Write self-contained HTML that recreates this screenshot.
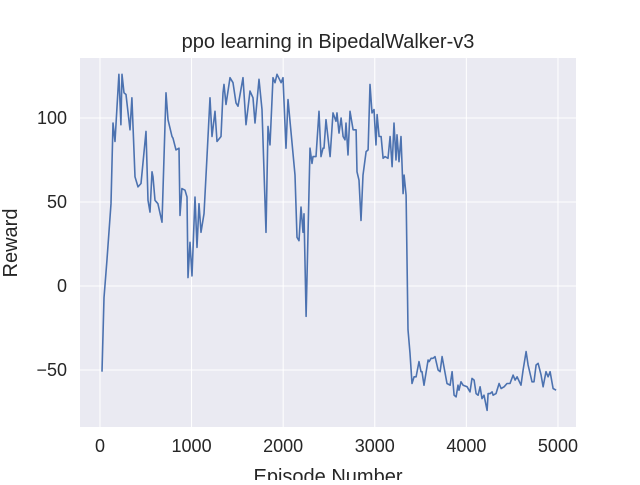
<!DOCTYPE html>
<html><head><meta charset="utf-8"><style>
body{margin:0;background:#fff;width:640px;height:480px;overflow:hidden}
svg text{font-family:"Liberation Sans","DejaVu Sans",sans-serif;fill:#262626}
</style></head><body>
<svg id="chart" width="640" height="480" xmlns="http://www.w3.org/2000/svg">
<rect x="80" y="58" width="496" height="369" fill="#eaeaf2"/>
<g id="grid"></g>
<g id="ticks"></g>
<path id="line" fill="none" stroke="#4c72b0" stroke-width="1.6" stroke-linejoin="round"/>
<text x="328" y="48" text-anchor="middle" font-size="20">ppo learning in BipedalWalker-v3</text>
<text x="328" y="483" text-anchor="middle" font-size="20">Episode Number</text>
<text x="0" y="0" transform="translate(17,243) rotate(-90)" text-anchor="middle" font-size="20">Reward</text>
</svg>
<script>
const episodes=[22,44,76,120,142,164,207,229,240,262,284,328,349,382,415,448,502,524,546,568,579,601,633,677,721,743,786,797,830,863,874,895,928,950,961,983,1005,1037,1059,1081,1103,1136,1168,1201,1223,1256,1278,1321,1343,1354,1376,1420,1452,1485,1507,1562,1594,1638,1671,1693,1736,1769,1813,1835,1856,1889,1911,1933,1977,1998,2031,2053,2129,2151,2173,2195,2217,2228,2250,2293,2315,2326,2359,2391,2413,2435,2446,2468,2512,2544,2577,2588,2610,2632,2654,2675,2686,2708,2730,2763,2796,2806,2828,2850,2872,2905,2927,2948,2970,2992,3014,3025,3047,3069,3091,3112,3145,3167,3189,3210,3232,3243,3265,3287,3309,3320,3342,3363,3385,3407,3429,3451,3483,3505,3516,3538,3582,3593,3615,3636,3658,3691,3713,3735,3789,3822,3844,3866,3888,3909,3920,3942,3964,4008,4040,4062,4084,4106,4128,4150,4171,4193,4226,4237,4259,4281,4292,4324,4357,4379,4412,4444,4477,4510,4532,4554,4597,4619,4652,4674,4717,4739,4761,4783,4816,4838,4870,4892,4914,4947,4980];
const rewards=[-51,-7,15,49,97,86,126,96,126,115,114,93,112,65,59,61,92,51,44,68,65,51,49,38,115,99,89,88,81,82,42,58,57,53,5,26,6,53,23,49,32,43,77,112,89,104,86,89,115,120,108,124,121,109,107,124,96,116,112,97,123,105,32,95,84,124,121,126,121,124,82,111,66,29,27,47,32,43,-18,82,73,77,77,104,77,82,82,99,77,103,98,103,91,100,89,87,97,78,104,93,93,68,63,39,66,80,81,120,103,105,84,102,89,89,76,77,76,89,71,97,75,90,74,89,55,66,54,-26,-40,-58,-54,-54,-45,-51,-51,-59,-44,-45,-43,-43,-42,-50,-51,-42,-58,-59,-51,-65,-66,-59,-62,-57,-59,-60,-63,-55,-56,-64,-65,-60,-67,-65,-74,-64,-64,-63,-65,-64,-58,-61,-60,-58,-58,-53,-56,-54,-59,-50,-39,-47,-57,-57,-47,-46,-53,-60,-51,-54,-51,-61,-62];
const xTicks=[0,1000,2000,3000,4000,5000];
const yTicks=[-50,0,50,100];
const yTickLabels=["\u221250","0","50","100"];
const X0=80,X1=576,Y0=58,Y1=427,xmin=-218,xmax=5197,ymin=-83.9,ymax=135.7;
const sx=v=>X0+(v-xmin)/(xmax-xmin)*(X1-X0);
const sy=v=>Y1-(v-ymin)/(ymax-ymin)*(Y1-Y0);
const NS="http://www.w3.org/2000/svg";
const grid=document.getElementById('grid'),ticks=document.getElementById('ticks');
xTicks.forEach(t=>{
  const l=document.createElementNS(NS,'line');
  l.setAttribute('x1',sx(t));l.setAttribute('x2',sx(t));l.setAttribute('y1',Y0);l.setAttribute('y2',Y1);
  l.setAttribute('stroke','#fff');l.setAttribute('stroke-width','1');
  
  
  grid.appendChild(l);
  const tx=document.createElementNS(NS,'text');
  tx.setAttribute('x',sx(t));tx.setAttribute('y',452);tx.setAttribute('text-anchor','middle');tx.setAttribute('font-size','18');
  tx.textContent=String(t);
  
  
  ticks.appendChild(tx);
});
yTicks.forEach((t,i)=>{
  const l=document.createElementNS(NS,'line');
  l.setAttribute('y1',sy(t));l.setAttribute('y2',sy(t));l.setAttribute('x1',X0);l.setAttribute('x2',X1);
  l.setAttribute('stroke','#fff');l.setAttribute('stroke-width','1');
  
  
  grid.appendChild(l);
  const tx=document.createElementNS(NS,'text');
  tx.setAttribute('x',67);tx.setAttribute('y',sy(t)+6);tx.setAttribute('text-anchor','end');tx.setAttribute('font-size','18');
  tx.textContent=yTickLabels[i];
  
  
  ticks.appendChild(tx);
});
document.getElementById('line').setAttribute('d',episodes.map((e,i)=>(i?'L':'M')+sx(e).toFixed(1)+','+sy(rewards[i]).toFixed(1)).join(''));
</script>
</body></html>
